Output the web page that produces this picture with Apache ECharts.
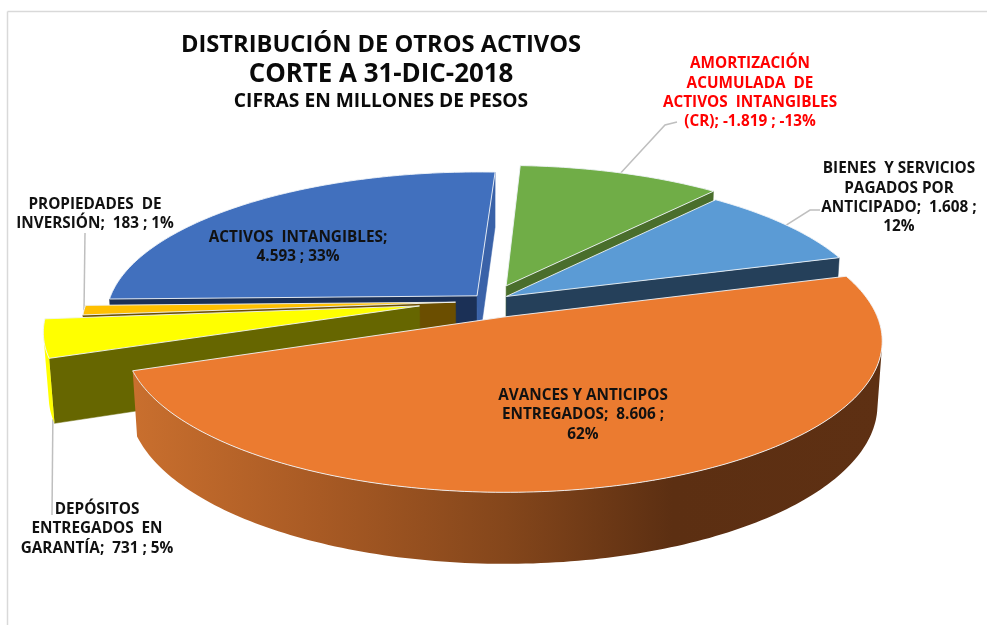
<!DOCTYPE html>
<html><head><meta charset="utf-8">
<style>html,body{margin:0;padding:0;background:#fff}#c{width:987px;height:625px}</style>
<script src="https://cdn.jsdelivr.net/npm/echarts@6/dist/echarts.min.js"></script>
</head><body><div id="c"></div>
<script>
// ---- data (clockwise slice order) ----
const categories = ["AMORTIZACIÓN ACUMULADA DE ACTIVOS INTANGIBLES (CR)","BIENES Y SERVICIOS PAGADOS POR ANTICIPADO","AVANCES Y ANTICIPOS ENTREGADOS","DEPÓSITOS ENTREGADOS EN GARANTÍA","PROPIEDADES DE INVERSIÓN","ACTIVOS INTANGIBLES"];
const values = [-1819, 1608, 8606, 731, 183, 4593];
const valueLabels = ["-1.819","1.608","8.606","731","183","4.593"];
const percentLabels = ["-13%","12%","62%","5%","1%","33%"];
const labelTemplates = [
  "AMORTIZACIÓN\nACUMULADA  DE\nACTIVOS  INTANGIBLES\n(CR); {v} ; {p}",
  "BIENES  Y SERVICIOS\nPAGADOS POR\nANTICIPADO;  {v} ;\n{p}",
  "AVANCES Y ANTICIPOS\nENTREGADOS;  {v} ;\n{p}",
  "DEPÓSITOS\nENTREGADOS  EN\nGARANTÍA;  {v} ; {p}",
  "PROPIEDADES  DE\nINVERSIÓN;  {v} ; {p}",
  "ACTIVOS  INTANGIBLES;\n{v} ; {p}"
];
const titleLine1 = "DISTRIBUCIÓN DE OTROS ACTIVOS";
const titleLine2 = "CORTE A 31-DIC-2018";
const subtitle = "CIFRAS EN MILLONES DE PESOS";

// ---- style and layout ----
const topColors  = ["#70AD47","#5B9BD5","#EB7B30","#FFFF00","#FFC000","#4170BE"];
const wallColors = ["#4A6E2C","#25405A","#7A3F17","#666600","#6B4E00","#1B3056"];
const sideColors = ["#4A6E2C","#25405A","#7A3F17","#666600","#6B4E00","#3A62A8"];
const apexOffset = [[0.05,-0.1],[0.05,-0.025],[0.04,0.117],[-0.185,0.041],[-0.088,0.015],[-0.03,-0.029]];
const sliceRadius = [0.99,0.99,1,1,1,1];
const drawRank   = [0, 1, 5, 4, 3, 2];
const textColors = ["#FF0000","#111","#111","#111","#111","#111"];
const labelPos   = [[750,93],[899,198],[583,415],[97,529],[95,214],[298,247]];
const leaderEnds = [[[665,125],[677,122]],[[810,210],[820,210]],null,[[52,515]],[[85,233]],null];
const leaderDown = [false,false,false,true,false,false];
const leaderFrac = [0.5,0.5,0.5,0.1,0.5,0.5];
const startAngle = 3;
const cam = {cx:488, cy:300, c:0.921, s:0.39, D:6.18, F:2274, h:0.185};
const FONT = '"Open Sans","Lato",sans-serif';

function proj(X,Y,Z){
  const w = cam.D - cam.c*Y - cam.s*Z;
  return [cam.cx + cam.F*X/w, cam.cy + cam.F*(cam.s*Y - cam.c*Z)/w];
}
const total = values.reduce((a,v)=>a+Math.abs(v),0);
const angles = []; let run = 0;
values.forEach(v=>{
  const a0 = echarts.number.linearMap(run,[0,total],[0,360]);
  run += Math.abs(v);
  const a1 = echarts.number.linearMap(run,[0,total],[0,360]);
  angles.push([startAngle+a0,startAngle+a1]);
});
const rad = d=>d*Math.PI/180;
const dir = d=>[Math.sin(rad(d)),-Math.cos(rad(d))];

function renderItem(params, api){
  const i = params.dataIndex;
  const [a0,a1] = angles[i];
  const A = apexOffset[i];
  const z = drawRank[i]*10+10;
  const Cy = cam.D*cam.c;
  const rr = sliceRadius[i];
  const rim = d=>{const n=dir(d);return [A[0]+rr*n[0],A[1]+rr*n[1]];};
  const kids = [];
  const arc = []; for(let d=a0;d<a1;d+=1) arc.push(d); arc.push(a1);
  const wall = (d,sign,fill)=>{
    const r=rad(d), n=[sign*Math.cos(r),sign*Math.sin(r)];
    if(A[0]*n[0]+(A[1]-Cy)*n[1] >= 0) return;
    const R=rim(d);
    kids.push({type:'polygon',z2:z+1,silent:true,
      shape:{points:[proj(A[0],A[1],0),proj(R[0],R[1],0),proj(R[0],R[1],-cam.h),proj(A[0],A[1],-cam.h)]},
      style:{fill:fill,stroke:fill,lineWidth:0.5}});
  };
  wall(a0,-1,wallColors[i]);
  wall(a1, 1,sideColors[i]);
  // outer rim wall: only the part facing the viewer
  const vis = arc.filter(d=>{const n=dir(d),R=rim(d);return R[0]*n[0]+(R[1]-Cy)*n[1]<0;});
  if(vis.length>1){
    const up=vis.map(d=>{const R=rim(d);return proj(R[0],R[1],0);});
    const dn=vis.map(d=>{const R=rim(d);return proj(R[0],R[1],-cam.h);}).reverse();
    const fill = i===2 ? new echarts.graphic.LinearGradient(0,0,1,0,[
        {offset:0,color:'#C96F2E'},{offset:0.25,color:'#A85A24'},{offset:0.5,color:'#84461B'},
        {offset:0.72,color:'#5C2F12'},{offset:1,color:'#5E3013'}])
      : topColors[i];
    kids.push({type:'polygon',z2:z+2,silent:true,shape:{points:up.concat(dn)},style:{fill:fill}});
  }
  // top face
  const pts=[proj(A[0],A[1],0)].concat(arc.map(d=>{const R=rim(d);return proj(R[0],R[1],0);}));
  kids.push({type:'polygon',z2:z+3,silent:true,shape:{points:pts},
    style:{fill:topColors[i],stroke:'rgba(240,244,248,0.9)',lineWidth:1}});
  // leader line
  if(leaderEnds[i]){
    const R=rim(a0+(a1-a0)*leaderFrac[i]);
    const p0=proj(R[0],R[1],leaderDown[i]?-cam.h:0);
    kids.push({type:'polyline',z2:1,silent:true,shape:{points:[p0].concat(leaderEnds[i])},
      style:{fill:null,stroke:'#BFBFBF',lineWidth:1.5}});
  }
  // label
  kids.push({type:'text',z2:200,silent:true,style:{
    text:labelTemplates[i].replace('{v}',valueLabels[api.value(1)]).replace('{p}',percentLabels[i]),
    x:labelPos[i][0],y:labelPos[i][1],align:'center',verticalAlign:'middle',
    font:'bold 15.3px '+FONT,lineHeight:19.3,fill:textColors[i]}});
  return {type:'group',children:kids};
}

const chart = echarts.init(document.getElementById('c'),null,{renderer:'canvas'});
chart.setOption({
  backgroundColor:'#fff',
  animation:false,
  title:{text:'{a|'+titleLine1+'}\n{b|'+titleLine2+'}',subtext:subtitle,left:381,top:30,textAlign:'center',itemGap:7,padding:0,
    textStyle:{fontFamily:FONT,fontWeight:'bold',color:'#0a0a0a',
      rich:{a:{fontFamily:FONT,fontWeight:'bold',fontSize:23.7,lineHeight:30,color:'#0a0a0a'},
            b:{fontFamily:FONT,fontWeight:'bold',fontSize:25.9,lineHeight:30,color:'#0a0a0a'}}},
    subtextStyle:{fontFamily:FONT,fontWeight:'bold',fontSize:19.2,color:'#0a0a0a'}},
  graphic:[
    {type:'line',silent:true,shape:{x1:7.5,y1:11.5,x2:987,y2:11.5},style:{stroke:'#D9D9D9',lineWidth:1.5}},
    {type:'line',silent:true,shape:{x1:7.5,y1:11.5,x2:7.5,y2:625},style:{stroke:'#D9D9D9',lineWidth:1.5}}
  ],
  series:[{type:'custom',coordinateSystem:'none',renderItem:renderItem,
    dimensions:['valor','indice'],data:values.map((v,k)=>({name:categories[k],value:[v,k]}))}]
});
</script></body></html>
